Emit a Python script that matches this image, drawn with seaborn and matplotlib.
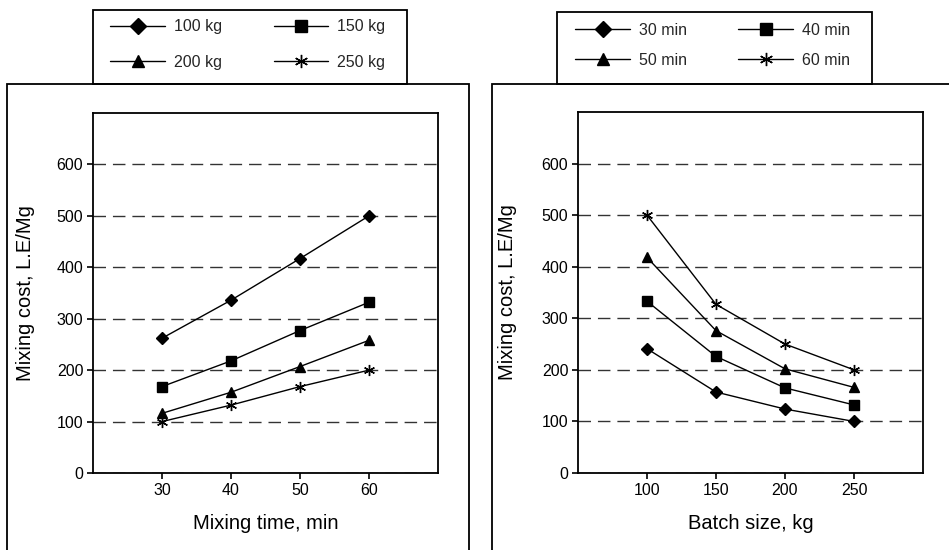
import numpy as np
import pandas as pd
import matplotlib
matplotlib.use("Agg")
import matplotlib.pyplot as plt
from matplotlib.patches import Rectangle
from matplotlib.lines import Line2D
import seaborn as sns

# ---- data ----
mixing_time = [30, 40, 50, 60]
batch_labels = ["100 kg", "150 kg", "200 kg", "250 kg"]
cost_100kg = [262, 336, 417, 500]
cost_150kg = [168, 218, 277, 332]
cost_200kg = [116, 157, 207, 258]
cost_250kg = [100, 132, 168, 200]

batch_size = [100, 150, 200, 250]
time_labels = ["30 min", "40 min", "50 min", "60 min"]
cost_30min = [241, 157, 124, 100]
cost_40min = [333, 226, 165, 132]
cost_50min = [418, 276, 202, 166]
cost_60min = [500, 327, 250, 200]

y_ticks = [0, 100, 200, 300, 400, 500, 600]

sns.set_theme(style="white")
plt.rcParams['font.family'] = ['Liberation Sans', 'DejaVu Sans']

W, H = 949, 550
fig = plt.figure(figsize=(W / 100, H / 100), dpi=100)

def fx(px):
    return px / W

def fy(py):
    return 1 - py / H

def add_rect(x0, y0, x1, y1, lw=1.3):
    r = Rectangle((fx(x0), fy(y1)), fx(x1) - fx(x0), fy(y0) - fy(y1),
                  transform=fig.transFigure, fill=False, edgecolor="black",
                  linewidth=lw, zorder=0)
    fig.patches.append(r)

# outer boxes
add_rect(7, 84, 469, 560)
add_rect(492, 84, 960, 560)
# legend boxes
add_rect(93, 10, 407, 84)
add_rect(557, 12, 872, 84)

markers_list = ["D", "s", "^", (6, 2, 0)]
msizes = [6.5, 6.5, 7, 8]

def make_ax(x0, y0, x1, y1):
    return fig.add_axes([fx(x0), fy(y1), fx(x1) - fx(x0), fy(y0) - fy(y1)])

def draw_panel(ax, xvals, labels, series, xlim, xlabel, ylabel_x, xlabel_y):
    rows = []
    for lab, vals in zip(labels, series):
        for xv, yv in zip(xvals, vals):
            rows.append({"x": xv, "y": yv, "series": lab})
    df = pd.DataFrame(rows)
    for i, lab in enumerate(labels):
        sub = df[df["series"] == lab]
        sns.lineplot(data=sub, x="x", y="y", ax=ax, color="black", linewidth=1.0,
                     marker=markers_list[i], markersize=msizes[i],
                     markeredgecolor="black", markerfacecolor="black",
                     markeredgewidth=1.0, legend=False)
    ax.set_xlim(*xlim)
    ax.set_ylim(0, 700)
    ax.set_xticks(xvals)
    ax.set_yticks(y_ticks)
    ax.set_xticklabels([str(v) for v in xvals])
    ax.set_yticklabels([str(v) for v in y_ticks])
    ax.yaxis.grid(True, color="#333333", linewidth=1.0, linestyle=(0, (9, 5)))
    ax.set_axisbelow(True)
    for s in ax.spines.values():
        s.set_visible(True)
        s.set_color("black")
        s.set_linewidth(1.3)
    ax.tick_params(axis="both", direction="out", length=4, width=1.2,
                   color="black", labelsize=11.5, pad=3, labelcolor="black",
                   bottom=True, left=True)
    ax.set_xlabel(xlabel, fontsize=14.5, color="black")
    ax.set_ylabel("Mixing cost, L.E/Mg", fontsize=14.5, color="black")
    ax.yaxis.set_label_coords(ylabel_x, 0.5)
    ax.xaxis.set_label_coords(0.5, xlabel_y)

def add_legend(labels, cx_px, cy_px, lspace, colspace):
    handles = [Line2D([0], [0], color="black", linewidth=1.0, marker=markers_list[i],
                      markersize=msizes[i] + 1.5, markerfacecolor="black",
                      markeredgecolor="black") for i in range(4)]
    order = [0, 2, 1, 3]
    fig.legend([handles[i] for i in order], [labels[i] for i in order],
               loc="center", bbox_to_anchor=(fx(cx_px), fy(cy_px)), ncol=2,
               frameon=False, fontsize=11.5, handlelength=3.4,
               columnspacing=colspace, labelspacing=lspace, handletextpad=0.6,
               borderpad=0.0, bbox_transform=fig.transFigure)

ax1 = make_ax(93, 113, 438, 473)
draw_panel(ax1, mixing_time, batch_labels,
           [cost_100kg, cost_150kg, cost_200kg, cost_250kg],
           (20, 70), "Mixing time, min", -0.168, -0.114)
ax2 = make_ax(578, 112, 923, 473)
draw_panel(ax2, batch_size, time_labels,
           [cost_30min, cost_40min, cost_50min, cost_60min],
           (50, 300), "Batch size, kg", -0.177, -0.114)

add_legend(batch_labels, 248, 44.5, 1.3, 3.2)
add_legend(time_labels, 713, 45.5, 0.95, 3.2)

fig.savefig("out.png", dpi=100, facecolor="white")
